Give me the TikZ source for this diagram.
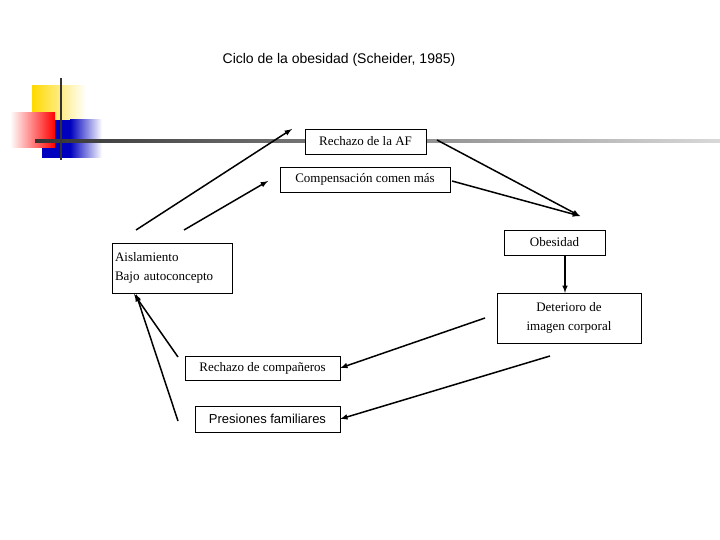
\documentclass[tikz,border=0pt]{standalone}
\usepackage{fontspec}
\setmainfont{Liberation Serif}
\setsansfont{Liberation Sans}
\begin{document}
\begin{tikzpicture}[x=1pt,y=-1pt,
 box/.style={draw,thin,fill=white,inner sep=0pt,font=\fontsize{13}{19}\selectfont},
 arr/.style={-latex,line width=1.5pt}]
\useasboundingbox (0,0) rectangle (720,540);
\node[font=\sffamily\fontsize{14}{16}\selectfont] (title) at (339,60) {Ciclo de la obesidad (Scheider, 1985)};
% logo
\fill[left color=yellow!70!orange,right color=white] (32,86) rectangle (86,120);
\fill[blue!75!black] (42,120) rectangle (70,158);
\fill[left color=blue!75!black,right color=white] (70,120) rectangle (102,158);
\fill[left color=white,right color=red] (10,113) rectangle (55,148);
\shade[left color=black!80,right color=black!15] (35,140) rectangle (720,142.5);
\draw[line width=2.5pt,black!80] (61,78) -- (61,160);
% nodes
\node[box,minimum width=121,minimum height=25] (af) at (365.5,141.5) {Rechazo de la AF};
\node[box,minimum width=170,minimum height=25] (comp) at (365,179.5) {Compensación comen más};
\node[box,minimum width=101,minimum height=25] (ob) at (554.5,242.5) {Obesidad};
\node[box,minimum width=120,minimum height=50,align=left,text width=114,inner xsep=3pt] (ais) at (172,268) {Aislamiento\\Bajo autoconcepto};
\node[box,minimum width=144,minimum height=50,align=center] (det) at (569,318) {Deterioro de\\imagen corporal};
\node[box,minimum width=155,minimum height=24] (comps) at (262.5,368) {Rechazo de compañeros};
\node[box,minimum width=145,minimum height=26,font=\sffamily\fontsize{13}{15}\selectfont] (pres) at (267.5,419) {Presiones familiares};
\coordinate (a1) at (136,230); \coordinate (a2) at (184,230);
\coordinate (b1) at (437,140); \coordinate (b2) at (452,181);
\coordinate (c1) at (485,318); \coordinate (c2) at (550,356);
\coordinate (d1) at (178,357); \coordinate (d2) at (178,421);
\coordinate (h) at (580,216);
\draw[arr] (a1) -- (292,129);
\draw[arr] (a2) -- (268,181);
\draw[arr] (b1) -- (h);
\draw[arr] (b2) -- (h);
\draw[arr] (ob.south -| 565,0) -- (det.north -| 565,0);
\draw[arr] (c1) -- (comps.east);
\draw[arr] (c2) -- (pres.east);
\draw[arr] (d1) -- (134,294);
\draw[arr] (d2) -- (136,294);
\end{tikzpicture}
\end{document}
